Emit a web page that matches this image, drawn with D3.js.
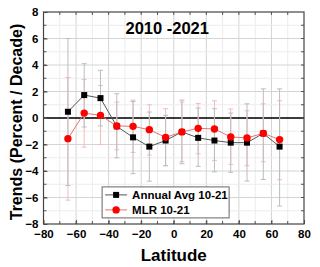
<!DOCTYPE html>
<html>
<head>
<meta charset="utf-8">
<script src="https://cdn.jsdelivr.net/npm/d3@7"></script>
<style>
  body { margin: 0; background: #fff; }
  text { font-family: "Liberation Sans", Arial, sans-serif; font-weight: bold; }
</style>
</head>
<body>
<svg id="chart" width="320" height="267"></svg>
<script>
// latitude bands (centres)
var latitudes = [-65, -55, -45, -35, -25, -15, -5, 5, 15, 25, 35, 45, 55, 65];

// Annual Avg 10-21
var annualAvg = [0.47, 1.73, 1.5, -0.63, -1.46, -2.16, -1.7, -1.05, -1.5, -1.7, -1.86, -1.86, -1.16, -2.16];
var annualHi  = [6.0, 4.1, 3.6, 1.83, 1.25, 0.45, 0.2, 1.35, 0.75, 0.7, 0.37, 1.07, 2.2, 2.2];
var annualLo  = [-5.1, -0.68, -0.6, -3.0, -4.2, -4.77, -3.6, -3.45, -3.65, -4.06, -4.1, -4.76, -4.64, -6.64];

// MLR 10-21
var mlr    = [-1.56, 0.37, 0.2, -0.6, -0.63, -0.88, -1.46, -1.05, -0.78, -0.83, -1.43, -1.5, -1.16, -1.63];
var mlrHi  = [3.05, 2.9, 2.45, 1.2, 1.35, 1.0, 0.7, 1.2, 1.1, 1.3, 0.68, 0.55, 1.07, 1.3];
var mlrLo  = [-6.2, -2.2, -2.0, -2.4, -2.6, -2.8, -3.6, -3.3, -2.7, -3.2, -3.5, -3.6, -3.3, -4.66];

var xTicks = [-80, -60, -40, -20, 0, 20, 40, 60, 80];
var yTicks = [-8, -6, -4, -2, 0, 2, 4, 6, 8];

var margin = {top: 12, right: 16, bottom: 43, left: 43.5};

var svg = d3.select("#chart"),
    width = +svg.attr("width") - margin.left - margin.right,
    height = +svg.attr("height") - margin.top - margin.bottom,
    g = svg.append("g").attr("transform", "translate(" + margin.left + "," + margin.top + ")");

var x = d3.scaleLinear().domain([-80, 80]).range([0, width]);
var y = d3.scaleLinear().domain([-8, 8]).range([height, 0]);

// grid
var grid = g.append("g");
grid.selectAll(".vminor")
  .data(d3.range(-70, 80, 10))
  .enter().append("line")
    .attr("x1", function(d) { return x(d); })
    .attr("x2", function(d) { return x(d); })
    .attr("y1", 0).attr("y2", height)
    .attr("stroke", function(d) { return d % 20 === 0 ? "#d4d4d4" : "#ececec"; })
    .attr("stroke-width", 1);
grid.selectAll(".hminor")
  .data(d3.range(-7, 8, 1))
  .enter().append("line")
    .attr("y1", function(d) { return y(d); })
    .attr("y2", function(d) { return y(d); })
    .attr("x1", 0).attr("x2", width)
    .attr("stroke", function(d) { return d % 2 === 0 ? "#d4d4d4" : "#ececec"; })
    .attr("stroke-width", 1);

// zero line
g.append("line")
  .attr("x1", 0).attr("x2", width)
  .attr("y1", y(0)).attr("y2", y(0))
  .attr("stroke", "#000")
  .attr("stroke-width", 1.6);

// axes
var xAxis = g.append("g")
    .attr("transform", "translate(0," + height + ")")
    .call(d3.axisBottom(x).tickValues(xTicks).tickSizeInner(-4).tickSizeOuter(0).tickPadding(6));
var yAxis = g.append("g")
    .call(d3.axisLeft(y).tickValues(yTicks).tickSizeInner(-4).tickSizeOuter(0).tickPadding(5));
[xAxis, yAxis].forEach(function(a) {
  a.select(".domain").remove();
  a.selectAll("line").attr("stroke", "#555");
  a.selectAll("text").attr("font-size", 11.5).attr("fill", "#000");
});

// minor ticks on all four sides
var minorX = d3.range(-70, 80, 10);
var minorY = d3.range(-7, 8, 1);
g.append("g").selectAll("line").data(minorX).enter().append("line")
  .attr("x1", function(d) { return x(d); }).attr("x2", function(d) { return x(d); })
  .attr("y1", height).attr("y2", height - 3).attr("stroke", "#555");
g.append("g").selectAll("line").data(minorX).enter().append("line")
  .attr("x1", function(d) { return x(d); }).attr("x2", function(d) { return x(d); })
  .attr("y1", 0).attr("y2", 3).attr("stroke", "#555");
g.append("g").selectAll("line").data(minorY).enter().append("line")
  .attr("y1", function(d) { return y(d); }).attr("y2", function(d) { return y(d); })
  .attr("x1", 0).attr("x2", 3).attr("stroke", "#555");
g.append("g").selectAll("line").data(minorY).enter().append("line")
  .attr("y1", function(d) { return y(d); }).attr("y2", function(d) { return y(d); })
  .attr("x1", width).attr("x2", width - 3).attr("stroke", "#555");

// frame
g.append("rect")
  .attr("width", width).attr("height", height)
  .attr("fill", "none")
  .attr("stroke", "#444")
  .attr("stroke-width", 1.2);

// series
var series = [
  {name: "Annual Avg 10-21", vals: annualAvg, hi: annualHi, lo: annualLo, color: "#000", line: "#555", err: "#bdbdbd", shape: "square"},
  {name: "MLR 10-21", vals: mlr, hi: mlrHi, lo: mlrLo, color: "#ff0000", line: "#e57373", err: "#f4bcbc", shape: "circle"}
];

// error bars first
series.slice().reverse().forEach(function(s) {
  var eb = g.append("g").attr("stroke", s.err).attr("stroke-width", 1);
  latitudes.forEach(function(lat, i) {
    eb.append("line").attr("x1", x(lat)).attr("x2", x(lat)).attr("y1", y(s.hi[i])).attr("y2", y(s.lo[i]));
    eb.append("line").attr("x1", x(lat) - 2.5).attr("x2", x(lat) + 2.5).attr("y1", y(s.hi[i])).attr("y2", y(s.hi[i]));
    eb.append("line").attr("x1", x(lat) - 2.5).attr("x2", x(lat) + 2.5).attr("y1", y(s.lo[i])).attr("y2", y(s.lo[i]));
  });
});

var line = d3.line()
  .x(function(d) { return x(d[0]); })
  .y(function(d) { return y(d[1]); });

series.forEach(function(s) {
  var pts = latitudes.map(function(lat, i) { return [lat, s.vals[i]]; });
  g.append("path")
    .attr("d", line(pts))
    .attr("fill", "none")
    .attr("stroke", s.line)
    .attr("stroke-width", 1);
  var m = g.append("g");
  if (s.shape === "square") {
    m.selectAll("rect").data(pts).enter().append("rect")
      .attr("x", function(d) { return x(d[0]) - 3; })
      .attr("y", function(d) { return y(d[1]) - 3; })
      .attr("width", 6).attr("height", 6)
      .attr("fill", s.color);
  } else {
    m.selectAll("circle").data(pts).enter().append("circle")
      .attr("cx", function(d) { return x(d[0]); })
      .attr("cy", function(d) { return y(d[1]); })
      .attr("r", 3.7)
      .attr("fill", s.color);
  }
});

// title
g.append("text")
  .attr("x", x(-4))
  .attr("y", 22)
  .attr("text-anchor", "middle")
  .attr("font-size", 16.5)
  .text("2010 -2021");

// legend
var legend = g.append("g").attr("transform", "translate(" + (x(-44)) + "," + (y(-5.2)) + ")");
legend.append("rect")
  .attr("width", 127).attr("height", 31)
  .attr("fill", "#fff")
  .attr("stroke", "#666")
  .attr("stroke-width", 1);
series.forEach(function(s, i) {
  var ly = 8 + i * 15;
  legend.append("line").attr("x1", 3).attr("x2", 25).attr("y1", ly).attr("y2", ly)
    .attr("stroke", s.line).attr("stroke-width", 1);
  if (s.shape === "square") {
    legend.append("rect").attr("x", 11).attr("y", ly - 3).attr("width", 6).attr("height", 6).attr("fill", s.color);
  } else {
    legend.append("circle").attr("cx", 14).attr("cy", ly).attr("r", 3.7).attr("fill", s.color);
  }
  legend.append("text")
    .attr("x", 30).attr("y", ly)
    .attr("dy", "0.35em")
    .attr("font-size", 11.5)
    .text(s.name);
});

// axis titles
svg.append("text")
  .attr("x", margin.left + width / 2)
  .attr("y", 261)
  .attr("text-anchor", "middle")
  .attr("font-size", 17)
  .text("Latitude");

svg.append("text")
  .attr("transform", "translate(22," + (margin.top + height / 2 + 4) + ") rotate(-90)")
  .attr("text-anchor", "middle")
  .attr("font-size", 16)
  .text("Trends (Percent / Decade)");
</script>
</body>
</html>
